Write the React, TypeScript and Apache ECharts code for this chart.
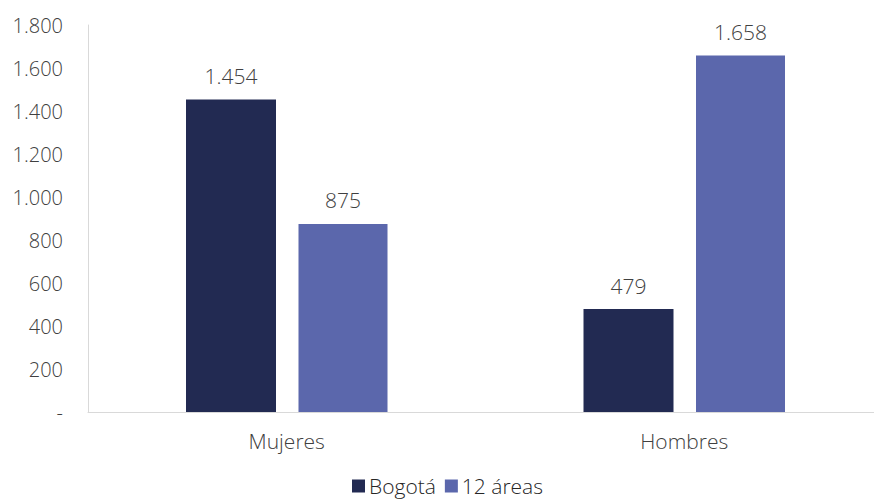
import React, { useEffect, useRef } from "react";
import * as echarts from "echarts";

const categories = ["Mujeres", "Hombres"];
const seriesNames = ["Bogotá", "12 áreas"];
const bogota = [1454, 479];
const areas12 = [875, 1658];
const yTicks = [0, 200, 400, 600, 800, 1000, 1200, 1400, 1600, 1800];

const fmt = (v: number) =>
  v === 0 ? "-" : String(Math.round(v)).replace(/\B(?=(\d{3})+(?!\d))/g, ".");

const FONT = "Open Sans";
const W: any = 300;

export default function App() {
  const ref = useRef<HTMLDivElement>(null);
  useEffect(() => {
    document.body.style.margin = "0";
    document.body.style.overflow = "hidden";
    const chart = echarts.init(ref.current!, null, { renderer: "svg" });
    const label = {
      show: true,
      position: "top" as const,
      distance: 13,
      color: "#404040",
      fontFamily: FONT,
      fontWeight: W,
      fontSize: 21,
      formatter: (p: any) => fmt(p.value),
    };
    chart.setOption({
      animation: false,
      textStyle: { fontFamily: FONT },
      grid: { left: 88, right: 7, top: 25, bottom: 87, containLabel: false },
      legend: {
        top: 474,
        left: 352,
        padding: 0,
        itemWidth: 13,
        itemHeight: 13,
        itemGap: 9,
        icon: "rect",
        textStyle: { fontSize: 21, lineHeight: 24, color: "#262626", fontFamily: FONT, fontWeight: W, padding: [0, 0, 0, -1] },
        data: seriesNames,
      },
      xAxis: {
        type: "category",
        data: categories,
        axisLine: { show: true, lineStyle: { color: "#d9d9d9", width: 1 } },
        axisTick: { show: false },
        axisLabel: { fontSize: 21, color: "#404040", fontFamily: FONT, fontWeight: W, margin: 18 },
      },
      yAxis: {
        type: "value",
        min: yTicks[0],
        max: yTicks[yTicks.length - 1],
        interval: 200,
        axisLine: { show: true, lineStyle: { color: "#d9d9d9", width: 1 } },
        axisTick: { show: false },
        splitLine: { show: false },
        axisLabel: {
          fontSize: 20,
          color: "#404040",
          fontFamily: FONT,
          fontWeight: W,
          margin: 25,
          formatter: (v: number) => fmt(v),
        },
      },
      series: [
        {
          name: seriesNames[0],
          type: "bar",
          data: bogota,
          barWidth: 90,
          barGap: "25%",
          itemStyle: { color: "#222A52" },
          label,
        },
        {
          name: seriesNames[1],
          type: "bar",
          data: areas12,
          barWidth: 89,
          itemStyle: { color: "#5B67AC" },
          label,
        },
      ],
    });
    return () => chart.dispose();
  }, []);
  return <div ref={ref} style={{ width: 890, height: 499 }} />;
}
